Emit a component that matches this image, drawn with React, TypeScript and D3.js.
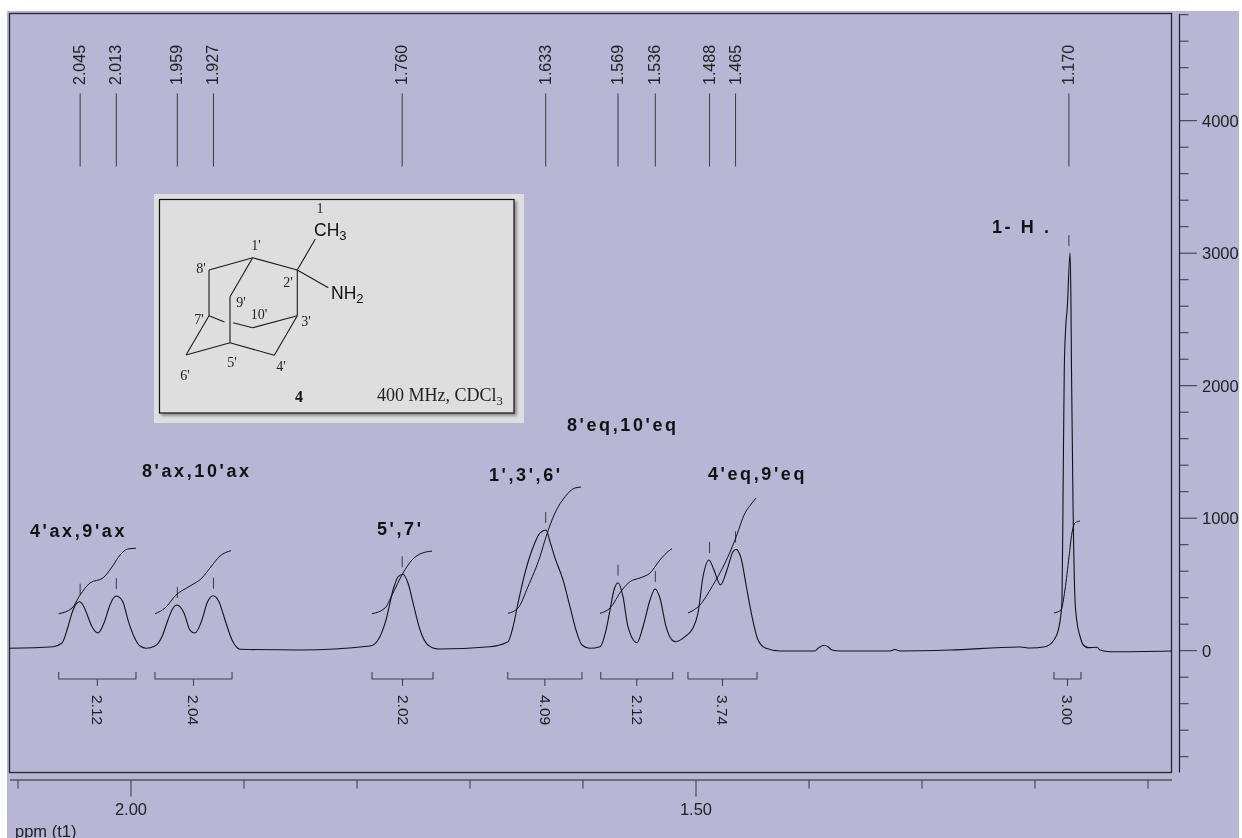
import * as d3 from "d3";

// peak picks, ppm and the height of the peak under the little tick
const pickPpm = [2.045, 2.013, 1.959, 1.927, 1.76, 1.633, 1.569, 1.536, 1.488, 1.465, 1.17];
const pickHeight = [370, 413, 345, 415, 577, 911, 513, 466, 685, 765, 3001];

const specPpm = [
  2.108, 2.069, 2.0611, 2.0558, 2.0522, 2.0487, 2.0456, 2.0425, 2.0398, 2.0345, 2.0292, 2.0239, 2.0186, 2.0155,
  2.0128, 2.0097, 2.0071, 2.0027, 1.9973, 1.992, 1.9867, 1.9788, 1.9726, 1.9673, 1.9633, 1.9593, 1.9531, 1.9478,
  1.9434, 1.9372, 1.9327, 1.9274, 1.9221, 1.9168, 1.9106, 1.9035, 1.8504, 1.7885, 1.7814, 1.7743, 1.7681, 1.7637,
  1.7593, 1.7549, 1.7496, 1.7442, 1.7372, 1.7283, 1.6823, 1.6664, 1.6619, 1.6575, 1.6522, 1.6451, 1.6381, 1.6327,
  1.6292, 1.6248, 1.6177, 1.6115, 1.6062, 1.6009, 1.5938, 1.585, 1.5796, 1.5761, 1.5726, 1.569, 1.5646, 1.5602,
  1.5522, 1.5469, 1.5407, 1.5363, 1.5319, 1.5265, 1.5212, 1.5177, 1.5097, 1.5027, 1.4982, 1.4938, 1.4885, 1.4841,
  1.4783, 1.4726, 1.4673, 1.4646, 1.4602, 1.4549, 1.4504, 1.4451, 1.4381, 1.4257, 1.3947, 1.392, 1.3867, 1.3832,
  1.3796, 1.3726, 1.3283, 1.3239, 1.3195, 1.2752, 1.2133, 1.2044, 1.1912, 1.1832, 1.1794, 1.1773, 1.1761, 1.1752,
  1.1741, 1.1728, 1.1714, 1.169, 1.1682, 1.1677, 1.1664, 1.1646, 1.1631, 1.1602, 1.1573, 1.1528, 1.1451, 1.1425,
  1.1336, 1.0788,
];
const specHeight = [
  18, 30, 58, 179, 285, 352, 370, 345, 294, 181, 134, 209, 345, 398,
  413, 398, 368, 232, 106, 35, 18, 35, 106, 232, 315, 345, 285, 156,
  134, 232, 360, 415, 370, 232, 81, 11, 5, 35, 81, 232, 458, 558,
  577, 511, 332, 156, 43, 13, 30, 68, 181, 360, 558, 760, 888, 911,
  823, 700, 534, 332, 156, 43, 18, 30, 156, 307, 458, 513, 408, 181,
  60, 181, 383, 466, 398, 181, 81, 68, 106, 171, 285, 558, 685, 609,
  496, 609, 747, 765, 700, 458, 257, 81, 18, -2, -2, 18, 41, 30,
  5, -2, -2, 9, -2, 5, 28, 20, 30, 81, 156, 257, 383, 1137,
  2118, 2443, 2594, 3001, 2647, 2118, 1137, 383, 232, 111, 43, 23, 26, 5,
  -8, -2,
];

// integral curves
const integralPpm = [
  [2.064, 2.0522, 2.0451, 2.0363, 2.0248, 2.0168, 2.0097, 2.0027, 1.9956],
  [1.9788, 1.9699, 1.9602, 1.9478, 1.9372, 1.9301, 1.9212, 1.9115],
  [1.7867, 1.7752, 1.769, 1.7593, 1.7513, 1.7442, 1.7336],
  [1.6664, 1.6575, 1.6487, 1.6381, 1.6327, 1.6248, 1.6159, 1.6071, 1.6018],
  [1.585, 1.5761, 1.5655, 1.5584, 1.5496, 1.5407, 1.5319, 1.523, 1.5212],
  [1.5071, 1.4965, 1.4858, 1.4743, 1.4655, 1.4566, 1.4504, 1.4469],
  [1.1832, 1.177, 1.1735, 1.1699, 1.1673, 1.1646, 1.1602],
];
const integralHeight = [
  [279, 322, 420, 511, 549, 632, 722, 768, 773],
  [279, 322, 420, 488, 549, 624, 715, 755],
  [279, 322, 420, 586, 685, 730, 752],
  [282, 322, 483, 709, 860, 1039, 1162, 1228, 1235],
  [282, 322, 458, 521, 549, 586, 685, 760, 770],
  [285, 345, 483, 662, 835, 1039, 1115, 1152],
  [285, 307, 458, 709, 888, 964, 979],
];
const bracketFrom = [2.064, 1.9788, 1.7867, 1.6666, 1.5843, 1.5071, 1.1832];
const bracketTo = [1.9956, 1.9106, 1.7327, 1.6009, 1.5206, 1.446, 1.1593];
const bracketLabels = ["2.12", "2.04", "2.02", "4.09", "2.12", "3.74", "3.00"];

const ppmTicks = [2.1, 2.0, 1.9, 1.8, 1.7, 1.6, 1.5, 1.4, 1.3, 1.2, 1.1];
const ppmLabelled = [2.0, 1.5];
const yMinor = d3.range(-800, 4801, 200);
const yLabelled = [0, 1000, 2000, 3000, 4000];

const assignments = [
  { text: "4'ax,9'ax", x: 30, y: 537 },
  { text: "8'ax,10'ax", x: 142, y: 477 },
  { text: "5',7'", x: 377, y: 535 },
  { text: "1',3',6'", x: 489, y: 481 },
  { text: "8'eq,10'eq", x: 567, y: 431 },
  { text: "4'eq,9'eq", x: 708, y: 480 },
  { text: "1- H .", x: 992, y: 233 },
];

// adamantane sketch in the inset
const atoms: Record<string, [number, number]> = {
  a1: [252.7, 257.7],
  a2: [297.3, 270],
  a8: [209, 270],
  a7: [209, 315.7],
  a6: [186, 355],
  a5: [230, 342.7],
  a4: [274.3, 355.3],
  a3: [297.3, 315.7],
  a9: [230, 296.7],
  a10: [252.7, 327.7],
  gapL: [224.5, 322],
  gapR: [233, 322.7],
  me: [315.3, 239],
  nh: [328.3, 287.7],
};
const bonds = [
  ["a1", "a2"], ["a1", "a8"], ["a8", "a7"], ["a7", "a6"], ["a6", "a5"], ["a5", "a4"], ["a4", "a3"], ["a3", "a2"],
  ["a1", "a9"], ["a9", "a5"], ["a7", "gapL"], ["gapR", "a10"], ["a10", "a3"], ["a2", "me"], ["a2", "nh"],
];
const atomLabels = [
  { t: "1", x: 320, y: 213 },
  { t: "1'", x: 256, y: 250 },
  { t: "8'", x: 201, y: 273 },
  { t: "2'", x: 288, y: 287 },
  { t: "9'", x: 241, y: 306.5 },
  { t: "10'", x: 259, y: 319 },
  { t: "7'", x: 199, y: 324 },
  { t: "3'", x: 306, y: 326 },
  { t: "5'", x: 232, y: 366.5 },
  { t: "4'", x: 281, y: 371 },
  { t: "6'", x: 185, y: 380 },
];

const x = d3.scaleLinear().domain([2.0, 1.5]).range([131, 696]);
const y = d3.scaleLinear().domain([0, 4000]).range([650.7, 120.7]);

const FRAME = { left: 9.5, right: 1171.5, top: 13.5, bottom: 772.5 };
const SANS = "'Liberation Sans', Arial, sans-serif";
const SERIF = "'Liberation Serif', 'Times New Roman', serif";
const INK = "#1c1c22";

const curve = d3
  .line<[number, number]>()
  .x((d) => x(d[0]))
  .y((d) => y(d[1]))
  .curve(d3.curveMonotoneX);

export default function App() {
  const spectrum = curve(specPpm.map((p, i) => [p, specHeight[i]] as [number, number])) ?? "";
  const integrals = integralPpm.map(
    (ps, k) => curve(ps.map((p, i) => [p, integralHeight[k][i]] as [number, number])) ?? ""
  );

  return (
    <svg width={1242} height={838} style={{ position: "absolute", left: 0, top: 0 }} fontFamily={SANS}>
      <defs>
        <filter id="soft" x="-5%" y="-5%" width="110%" height="110%">
          <feGaussianBlur stdDeviation="1.5" />
        </filter>
      </defs>
      <rect width={1242} height={838} fill="#ffffff" />
      <rect x={7} y={11} width={1232} height={827} fill="#b7b6d4" />

      <rect
        x={FRAME.left}
        y={FRAME.top}
        width={FRAME.right - FRAME.left}
        height={FRAME.bottom - FRAME.top}
        fill="none"
        stroke="#26262e"
        strokeWidth={1.3}
      />

      {/* right intensity axis */}
      <line x1={1179.5} x2={1179.5} y1={14} y2={772.5} stroke={INK} strokeWidth={1.2} />
      {yMinor.map((v) => (
        <line
          key={v}
          x1={1179.5}
          x2={yLabelled.includes(v) ? 1197 : 1188.5}
          y1={y(v)}
          y2={y(v)}
          stroke="#33333a"
          strokeWidth={1}
        />
      ))}

      {/* bottom ppm axis */}
      <line x1={10} x2={1172} y1={780} y2={780} stroke="#55555c" strokeWidth={1.4} />
      {ppmTicks.map((p) => (
        <line
          key={p}
          x1={x(p)}
          x2={x(p)}
          y1={780}
          y2={ppmLabelled.includes(p) ? 796.5 : 788.5}
          stroke="#44444c"
          strokeWidth={1.1}
        />
      ))}

      {/* peak picks */}
      {pickPpm.map((p, i) => (
        <g key={p} stroke="#3a3a42" strokeWidth={1}>
          <line x1={x(p)} x2={x(p)} y1={93.5} y2={166.5} />
          <line x1={x(p)} x2={x(p)} y1={y(pickHeight[i]) - 18} y2={y(pickHeight[i]) - 7} />
        </g>
      ))}

      <path d={spectrum} fill="none" stroke="#111116" strokeWidth={1.1} />
      {integrals.map((d, i) => (
        <path key={i} d={d} fill="none" stroke="#111116" strokeWidth={1} />
      ))}

      {/* integral brackets */}
      {bracketLabels.map((_, i) => {
        const x0 = x(bracketFrom[i]);
        const x1 = x(bracketTo[i]);
        const mid = (x0 + x1) / 2;
        return (
          <path
            key={i}
            d={`M${x0},672V679H${x1}V672M${mid},679V686`}
            fill="none"
            stroke="#44444c"
            strokeWidth={1.1}
          />
        );
      })}

      {/* inset with the structure */}
      <rect x={154} y={194} width={370} height={229} fill="#dfdfdf" />
      <rect x={161} y={201} width={356} height={215} fill="#8f8f8f" filter="url(#soft)" />
      <rect x={159.5} y={199.5} width={354.5} height={213.5} fill="#dedede" stroke="#111" strokeWidth={1.2} />
      {bonds.map(([a, b], i) => (
        <line
          key={i}
          x1={atoms[a][0]}
          y1={atoms[a][1]}
          x2={atoms[b][0]}
          y2={atoms[b][1]}
          stroke="#1a1a1a"
          strokeWidth={1.1}
        />
      ))}

      {/* all text in one translucent group so it gets plain grey antialiasing */}
      <g opacity={0.999}>
        {yLabelled.map((v) => (
          <text key={v} x={1202} y={y(v) + 6} fontSize={16.5} fill="#222">
            {v}
          </text>
        ))}
        {ppmLabelled.map((p) => (
          <text key={p} x={x(p)} y={815} fontSize={16.5} textAnchor="middle" fill="#222">
            {p.toFixed(2)}
          </text>
        ))}
        <text x={15} y={836.5} fontSize={16.5} fill="#222">
          ppm (t1)
        </text>
        {pickPpm.map((p) => (
          <text key={p} transform={`translate(${x(p) + 5},85) rotate(-90)`} fontSize={16} fill="#222">
            {p.toFixed(3)}
          </text>
        ))}
        {bracketLabels.map((label, i) => (
          <text
            key={i}
            transform={`translate(${(x(bracketFrom[i]) + x(bracketTo[i])) / 2 - 5},695) rotate(90)`}
            fontSize={15.5}
            fill="#222"
          >
            {label}
          </text>
        ))}
        {assignments.map((a) => (
          <text
            key={a.text}
            x={a.x}
            y={a.y}
            fontSize={18}
            fontWeight="bold"
            letterSpacing={2.6}
            fill="#111"
            style={{ whiteSpace: "pre" }}
          >
            {a.text}
          </text>
        ))}
        {atomLabels.map((a) => (
          <text key={a.t} x={a.x} y={a.y} fontFamily={SERIF} fontSize={14} textAnchor="middle" fill="#222">
            {a.t}
          </text>
        ))}
        <text x={314} y={236} fontSize={17.5} fill="#111">
          CH<tspan fontSize={13} dy={4}>3</tspan>
        </text>
        <text x={331} y={298.5} fontSize={17.5} fill="#111">
          NH<tspan fontSize={13} dy={4}>2</tspan>
        </text>
        <text x={299} y={402} fontFamily={SERIF} fontSize={16} fontWeight="bold" textAnchor="middle" fill="#111">
          4
        </text>
        <text x={377} y={400.5} fontFamily={SERIF} fontSize={18} fill="#222">
          400 MHz, CDCl<tspan fontSize={12.5} dy={4}>3</tspan>
        </text>
      </g>
    </svg>
  );
}
